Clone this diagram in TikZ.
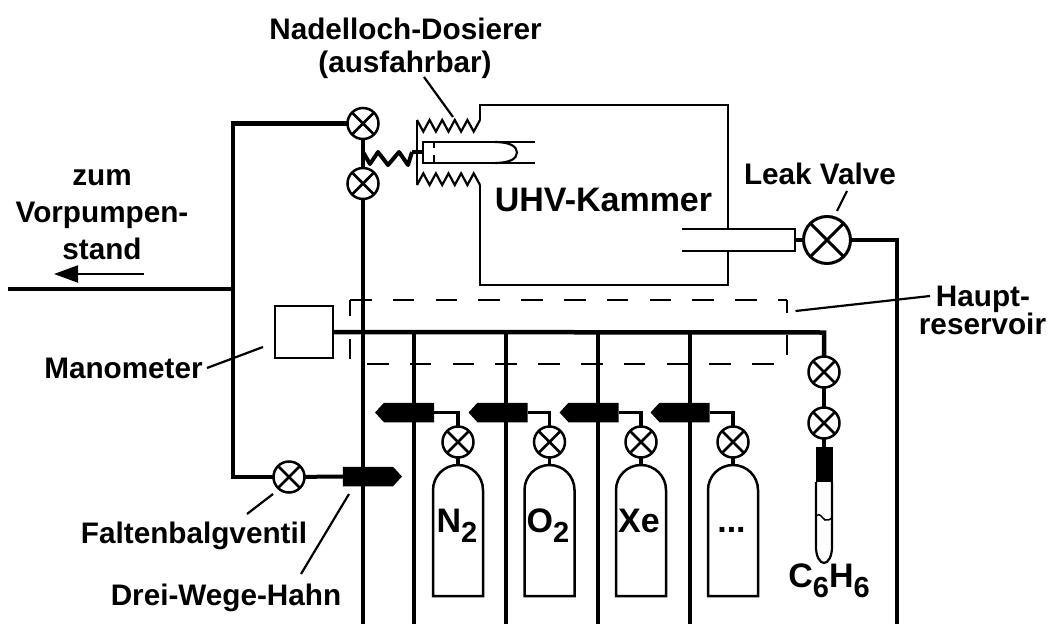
\documentclass[tikz,border=0pt]{standalone}
\usepackage{fontspec}
\setmainfont{Liberation Sans}
\usetikzlibrary{shapes.symbols,arrows.meta}
\newcommand{\tief}[1]{\raisebox{-10pt}{\fontsize{29}{29}\selectfont #1}}
\newcommand{\punkte}{.{}.{}.}
\begin{document}
\begin{tikzpicture}[x=1pt,y=-1pt,inner sep=0pt,outer sep=0pt,line width=2.5pt,
valve/.style={draw,circle,minimum size=31pt,path picture={\draw (path picture bounding box.north west) -- (path picture bounding box.south east) (path picture bounding box.south west) -- (path picture bounding box.north east);}},
hahn/.style={signal,fill=black,signal from=nowhere,signal pointer angle=95,minimum width=59pt,minimum height=19.5pt},
pipe/.style={line width=4.5pt},
thin line/.style={line width=2.2pt},
res dash/.style={line width=2pt,dash pattern=on 21.5pt off 21.3pt},
label/.style={font=\fontsize{29.7}{36}\selectfont\bfseries,align=center,anchor=base},
big label/.style={font=\fontsize{34}{36}\selectfont\bfseries,anchor=base}]
\useasboundingbox (0,0) rectangle (1050,624);

\draw (363,123.5) node[valve] (V1) {};
\draw (363,183.5) node[valve] (V2) {};
\draw (827,240) node[valve,minimum size=47pt,line width=3pt] (leak) {};
\draw (289,477) node[valve] (falten) {};
\draw (304,332) node[draw,rectangle,minimum width=58pt,minimum height=52pt] (mano) {};
\draw (824,372) node[valve] (V3) {};
\draw (824,423) node[valve] (V4) {};
\draw (233,123.5) coordinate (linksoben);
\draw (233,477) coordinate (linksunten);
\draw (233,289) coordinate (abzweig);
\draw (8,289) coordinate (vorpumpe);
\draw (363,624) coordinate (endeA);
\draw (824,332.5) coordinate (knick);
\draw (897,240) coordinate (rechts);
\draw (897,624) coordinate (endeB);
\draw (363,152) coordinate (federA);
\draw (412,152) coordinate (federB);

\draw[pipe] (V1) -- (linksoben) -- (linksunten) -- (falten);
\draw[pipe] (vorpumpe) -- (abzweig);
\draw[pipe] (V1) -- (V2) -- (endeA);
\draw[pipe] (mano.east) -- (knick) -- (V3);
\draw[pipe] (V3) -- (V4);
\draw[pipe] (leak) -- (rechts) -- (endeB);

\foreach \x/\n/\gas/\hx/\vx/\lx in {414/1/N\tief{2}/409/458/457,506/2/O\tief{2}/502.5/549.5/548,598/3/Xe/593.5/641/639,690/4/\punkte/684.5/733/731.5} {
  \draw[pipe] (\x,332.5) -- (\x,624);
  \draw (\hx,412.5) node[hahn,signal to=west] (hahn\n) {};
  \draw (\vx,442) node[valve] (gasventil\n) {};
  \draw (\vx,465) coordinate (flasche\n);
  \draw[line width=3.5pt] (hahn\n.east) -| (gasventil\n);
  \draw[line width=3.5pt] (gasventil\n) -- (flasche\n);
  \draw (\vx-25,596) -- ++(0,-106) arc (180:360:25) -- ++(0,106) -- cycle;
  \draw (\lx,532) node[big label] (gas\n) {\gas};
}

\draw (368,476.5) node[hahn,signal to=east,signal pointer angle=95] (hahn0) {};
\draw[line width=4pt] (falten) -- (hahn0.west);

\draw[thin line] (480,120) -- (480,105) -- (728,105) -- (728,229);
\draw[thin line] (728,251) -- (728,285) -- (480,285) -- (480,185);
\draw[thin line] (682,229) -- (795,229) -- (795,251) -- (682,251);
\draw[pipe] (795,240) -- (leak);

\draw[thin line] (417,120) -- (417,185);
\draw[thin line] (417,120) \foreach \k in {1,...,5} { -- ++(6.3,11.6) -- ++(6.3,-11.6)};
\draw[thin line] (417,185) \foreach \k in {1,...,5} { -- ++(6.3,-11.6) -- ++(6.3,11.6)};
\draw[thin line] (535,142) -- (423,142) -- (423,163) -- (535,163);
\draw[thin line] (434,142) -- (434,148) (434,155) -- (434,163);
\draw[thin line] (495,142) .. controls (509,142) and (517,146) .. (517,152.5) .. controls (517,159) and (509,163) .. (495,163);
\draw[line width=4pt] (federB) -- (423,152);
\draw[line width=4pt,line join=round] (federA) -- (370,164) -- (378,152) -- (388,165) -- (399,152) -- (408,165) -- (federB);

\draw[res dash] (350,300) -- (787,300);
\draw[res dash] (367,364) -- (774,364);
\draw[line width=2pt] (350,316) -- (350,300);
\draw[line width=2pt] (350,339) -- (350,359);
\draw[line width=2pt] (787,300) -- (787,313);
\draw[line width=2pt] (787,335) -- (787,355);

\draw (824,447) coordinate (roehre);
\draw[line width=3.5pt] (V4) -- (roehre);
\fill (815.5,447) rectangle (832.5,482);
\draw[thin line] (816,482) -- (816,547) arc (180:0:8 and 16) -- (832,482);
\draw[line width=1.5pt] (816,516) .. controls (820,512) and (822,518) .. (825,520) .. controls (828,521) and (830,519) .. (832,518);

\draw[-{Triangle[length=24pt,width=17pt]},line width=2pt] (144,274) -- (54,274);

\draw (405.5,39) node[label] (nadel) {Nadelloch-Dosierer};
\draw (405,72.5) node[label] (ausf) {(ausfahrbar)};
\draw (102,185) node[label] (zum) {zum};
\draw (102,222) node[label] (vor) {Vorpumpen-};
\draw (102,259) node[label] (stand) {stand};
\draw (603.5,211) node[big label] (uhv) {UHV-Kammer};
\draw (820,184) node[label] (lv) {Leak Valve};
\draw (983,306) node[label] (haupt) {Haupt-};
\draw (982.5,334) node[label] (reservoir) {reservoir};
\draw (123.5,378) node[label] (manolabel) {Manometer};
\draw (194,543) node[label] (faltenlabel) {Faltenbalgventil};
\draw (226,605) node[label] (dreilabel) {Drei-Wege-Hahn};
\draw (829,587) node[big label] (benzol) {C\tief{6}H\tief{6}};

\draw[thin line] (424,77) -- (453,117);
\draw[thin line] (847,191) -- (837,211);
\draw[thin line] (795.5,311) -- (930,296);
\draw[thin line] (207,368) -- (263,347);
\draw[thin line] (273,494) -- (247,514);
\draw[thin line] (349,494) -- (301,574);
\end{tikzpicture}
\end{document}
